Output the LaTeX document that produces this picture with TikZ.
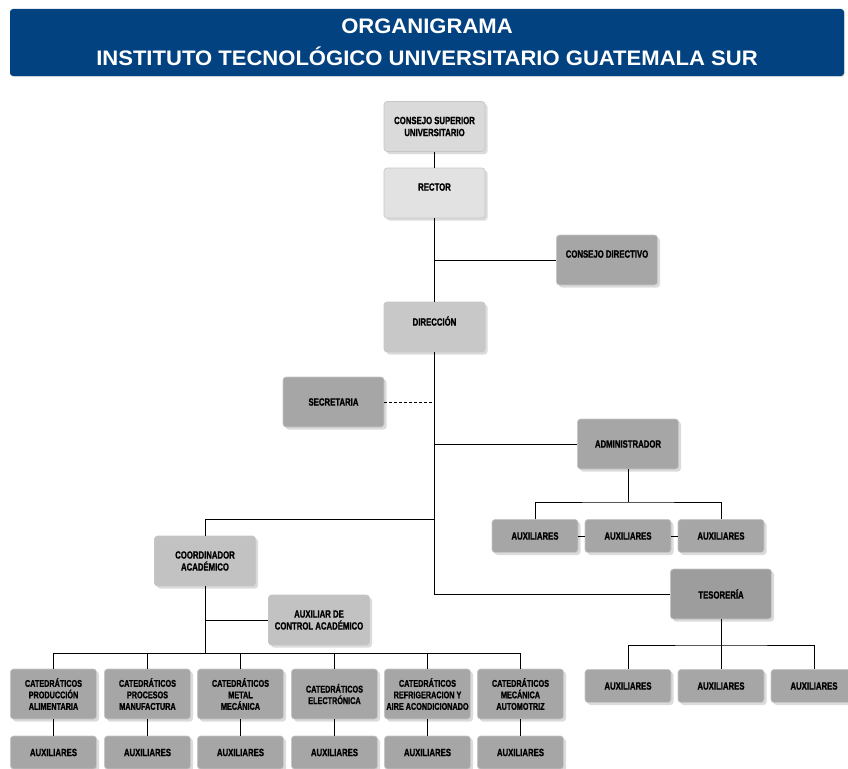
\documentclass[tikz,border=0pt]{standalone}
\usepackage{fontspec}
\usepackage{tikz}
\usetikzlibrary{shadows}
\usetikzlibrary{calc,positioning}
\newfontfamily\condfont{Liberation Sans}[UprightFont={* Bold}, BoldFont={* Bold}, FakeStretch=0.74, FakeBold=1.2]
\newfontfamily\titlefont{Liberation Sans}[UprightFont={* Bold}, BoldFont={* Bold}, FakeStretch=1.05]
\definecolor{azulorg}{RGB}{2,66,128}
\definecolor{grisA}{RGB}{218,218,218}
\definecolor{grisB}{RGB}{226,226,226}
\definecolor{grisC}{RGB}{200,200,200}
\definecolor{grisD}{RGB}{166,166,166}
\definecolor{grisE}{RGB}{194,194,194}

\begin{document}
\begin{tikzpicture}[x=1pt,y=-1pt,
	caja/.style={rounded corners=3pt, draw=gray!45, line width=0.6pt,
		minimum width=101pt, minimum height=50pt, align=center, inner sep=1pt,
		font=\condfont\fontsize{10.5}{12}\selectfont,
		drop shadow={shadow xshift=2.5pt, shadow yshift=-2.5pt, fill=gray!35, opacity=0.8}},
	cajita/.style={caja, minimum width=86pt, minimum height=33pt},
	cajacat/.style={caja, minimum width=86pt, minimum height=50pt, font=\condfont\fontsize{9.8}{11.5}\selectfont}]

	\useasboundingbox (0,0) rectangle (848,768);
	\clip (0,0) rectangle (848,768);

% titulo
	\node[fill=azulorg, rounded corners=3pt, minimum width=834pt, minimum height=67pt,
		text=white, align=center, font=\titlefont\fontsize{21}{32}\selectfont,
		drop shadow={shadow xshift=1pt, shadow yshift=-1pt, fill=gray!40}]
		(titulo) at (427,42.5) {ORGANIGRAMA\\INSTITUTO TECNOLÓGICO UNIVERSITARIO GUATEMALA SUR};

% niveles superiores
	\node[caja, fill=grisA] (csu) at (434.5,126.5) {CONSEJO SUPERIOR\\UNIVERSITARIO};
	\node[caja, fill=grisB] (rector) at (434.5,193) {RECTOR\\~};
	\node[caja, fill=grisD] (cdir) at (607,260) {CONSEJO DIRECTIVO\\~};
	\node[caja, fill=grisC] (dir) at (434.5,327) {DIRECCIÓN\\~};
	\node[caja, fill=grisD] (sec) at (333.5,402) {SECRETARIA};
	\node[caja, fill=grisD] (adm) at (628,444) {ADMINISTRADOR};
	\node[caja, fill=grisE] (coord) at (205,561) {COORDINADOR\\ACADÉMICO};
	\node[caja, fill=grisE] (auxc) at (319,620) {AUXILIAR DE\\CONTROL ACADÉMICO};
	\node[caja, fill=grisD!110!white] (tes) at (721,594) {TESORERÍA};

% auxiliares de administracion y tesoreria
	\foreach \x [count=\i] in {535, 628, 721}
		\node[cajita, fill=grisD] (aa\i) at (\x,536) {AUXILIARES};
	\foreach \x [count=\i] in {628, 721, 814}
		\node[cajita, fill=grisD] (ta\i) at (\x,686) {AUXILIARES};

% catedraticos
	\foreach \x/\txt [count=\i] in {53.5/{CATEDRÁTICOS\\PRODUCCIÓN\\ALIMENTARIA},
			147.5/{CATEDRÁTICOS\\PROCESOS\\MANUFACTURA},
			240.5/{CATEDRÁTICOS\\METAL\\MECÁNICA},
			334.5/{CATEDRÁTICOS\\ELECTRÓNICA},
			427.5/{CATEDRÁTICOS\\REFRIGERACION Y\\AIRE ACONDICIONADO},
			520.5/{CATEDRÁTICOS\\MECÁNICA\\AUTOMOTRIZ}}
	{
		\node[cajacat, fill=grisD] (cat\i) at (\x,694) {\txt};
		\node[cajita, fill=grisD] (ac\i) at (\x,752.5) {AUXILIARES};
	}

% lineas
	\coordinate (bcoord) at (434.5,519);
	\coordinate (bcat) at (205,653);
	\coordinate (badm) at (628,502);
	\coordinate (btes) at (721,645);

	\draw (csu) -- (rector);
	\draw (rector) -- (dir);
	\draw (cdir.west) -- (cdir.west -| rector.south);
	\draw[densely dashed] (sec.east) -- (sec.east -| dir.south);
	\draw (adm.west) -- (adm.west -| dir.south);
	\draw (dir.south) |- (tes.west);
	\draw (bcoord) -| (coord.north);

	\draw (adm.south) -- (badm);
	\draw (aa1.north) |- (badm) -| (aa3.north);
	\draw (aa1.east) -- (aa2.west);
	\draw (aa2.east) -- (aa3.west);

	\draw (tes.south) -- (ta2.north);
	\draw (ta1.north) |- (btes) -| (ta3.north);

	\draw (coord.south) -- (bcat);
	\draw (auxc.west) -- (auxc.west -| coord.south);
	\draw (cat1.north |- bcat) -- (cat6.north |- bcat);
	\foreach \i in {1,...,6}
	{
		\draw (cat\i.north |- bcat) -- (cat\i.north);
		\draw (cat\i) -- (ac\i);
	}
\end{tikzpicture}
\end{document}
